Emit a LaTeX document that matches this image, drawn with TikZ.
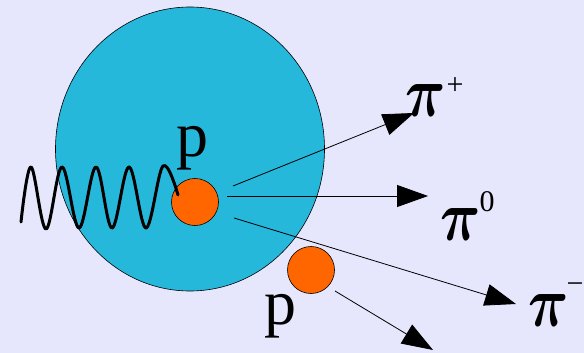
\documentclass[tikz,border=0pt]{standalone}
\usepackage{fontspec}
\usepackage{graphicx}
\setmainfont{Liberation Serif}
\usetikzlibrary{arrows.meta,shapes.geometric}
\definecolor{bg}{RGB}{230,230,252}
\definecolor{nuc}{RGB}{38,184,219}
\definecolor{prot}{RGB}{255,102,0}
\tikzset{
  nucleus/.style={ellipse,draw=black,fill=nuc,line width=0.6pt,inner sep=0pt,minimum width=269pt,minimum height=284pt},
  proton/.style={circle,draw=black,fill=prot,line width=0.6pt,inner sep=0pt,minimum size=47pt},
  bigtxt/.style={inner sep=0pt,font=\fontsize{64}{64}\selectfont},
  pitxt/.style={inner sep=0pt,font=\boldmath},
  suptxt/.style={inner sep=0pt,font=\fontsize{30}{30}\selectfont},
  track/.style={line width=0.8pt,-{Triangle[length=31pt,width=22pt]}},
  photon/.style={line width=3pt,line join=round,line cap=round}
}
\begin{document}
\begin{tikzpicture}[x=1pt,y=-1pt]
\fill[bg] (0,0) rectangle (584,353);
\useasboundingbox (0,0) rectangle (584,353);
\node[nucleus] (nuc) at (190,149) {};
\node[proton] (p1) at (195,202) {};
\node[proton] (p2) at (311,270) {};
\draw[photon] plot[smooth,tension=0.6] coordinates {(21,222) (31,167) (46,229) (62,167) (79,228) (96,167) (112,228) (129,167) (146,228) (163,166) (178,195)};
\node[bigtxt] (lp1) at (192,148) {p};
\node[bigtxt] (lp2) at (280,316) {p};
\node[pitxt] (piplus) at (426,101) {\scalebox{5.6}[7.2]{$\pi$}};
\node[suptxt] (plus) at (455,86) {+};
\node[pitxt] (pizero) at (461,224) {\scalebox{5.6}[7.2]{$\pi$}};
\node[suptxt] (zero) at (487,202) {0};
\node[pitxt] (piminus) at (549,310) {\scalebox{5.6}[7.2]{$\pi$}};
\node[suptxt] (minus) at (575,288) {−};
\coordinate (s1) at (233,186);
\coordinate (e1) at (414,113);
\coordinate (s2) at (227,196);
\coordinate (e2) at (428,196);
\coordinate (s3) at (234,218);
\coordinate (e3) at (516,304);
\coordinate (s4) at (335,291);
\coordinate (e4) at (433,350);
\draw[track] (s1) -- (e1);
\draw[track] (s2) -- (e2);
\draw[track] (s3) -- (e3);
\draw[track] (s4) -- (e4);
\end{tikzpicture}
\end{document}
